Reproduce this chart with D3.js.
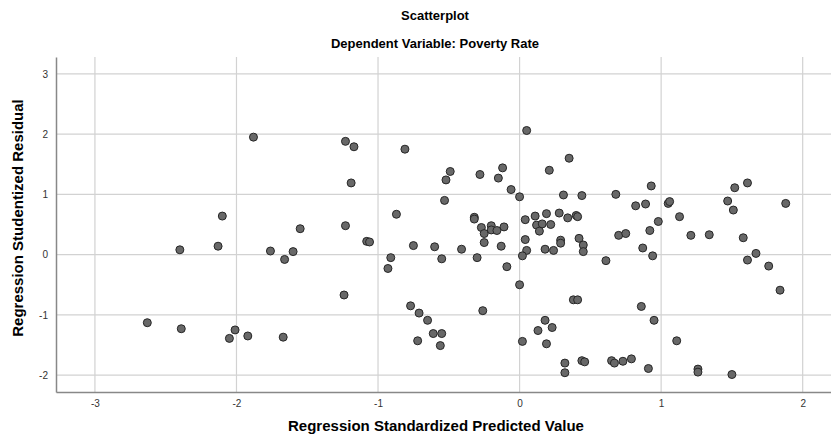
<!DOCTYPE html>
<html>
<head>
    <meta charset="utf-8">
    <title>Scatterplot</title>
    <style>
        body { margin: 0; background: #fff; }
        text { font-family: "Liberation Sans", Arial, sans-serif; }
    </style>
</head>
<body>
    <svg width="831" height="435"></svg>

    <script src="https://cdn.jsdelivr.net/npm/d3@7"></script>
    <script>

    // predicted values (x) and studentized residuals (y)
    var predicted = [
        -1.88, -2.10, -2.40, -2.13, -1.76, -2.63, -2.39, -2.01, -2.05, -1.92,
        -1.67, -1.66, -1.60, -1.55, -1.23, -1.23, -1.17, -1.19, -1.24, -1.08,
        -1.06, -0.81, -0.87, -0.91, -0.93, -0.75, -0.60, -0.55, -0.53, -0.49,
        -0.52, -0.41, -0.32, -0.32, -0.30, -0.28, -0.27, -0.25, -0.25, -0.20,
        -0.20, -0.16, -0.11, -0.13, -0.12, -0.15, -0.06, -0.09, 0.00, 0.05,
        0.04, 0.04, 0.05, 0.02, 0.11, 0.12, 0.16, 0.14, 0.19, 0.21,
        0.22, 0.18, 0.24, 0.28, 0.34, 0.40, 0.41, 0.35, 0.31, 0.44,
        0.29, 0.29, 0.42, 0.45, 0.45, 0.61, 0.68, 0.70, 0.75, 0.82,
        0.89, 0.87, 0.92, 0.93, 0.94, 0.98, 1.05, 1.06, 1.13, 1.21,
        1.34, 1.47, 1.51, 1.52, 1.61, 1.58, 1.67, 1.61, 1.76, 1.88,
        1.84, -0.77, -0.71, -0.65, -0.61, -0.55, -0.72, -0.56, -0.26, 0.00,
        0.02, 0.13, 0.18, 0.23, 0.19, 0.38, 0.41, 0.86, 0.95, 0.32,
        0.32, 0.44, 0.46, 0.65, 0.67, 0.73, 0.79, 0.91, 1.11, 1.26,
        1.26, 1.50
    ]
    var residual = [
        1.95, 0.64, 0.08, 0.14, 0.06, -1.13, -1.23, -1.25, -1.39, -1.35,
        -1.37, -0.08, 0.05, 0.43, 0.48, 1.88, 1.79, 1.19, -0.67, 0.22,
        0.21, 1.75, 0.67, -0.05, -0.23, 0.15, 0.13, -0.07, 0.90, 1.38,
        1.24, 0.09, 0.62, 0.59, -0.05, 1.33, 0.45, 0.35, 0.20, 0.48,
        0.41, 0.40, 0.46, 0.14, 1.44, 1.27, 1.08, -0.20, 0.96, 2.06,
        0.58, 0.25, 0.07, -0.02, 0.64, 0.49, 0.51, 0.39, 0.68, 1.40,
        0.50, 0.09, 0.07, 0.69, 0.61, 0.65, 0.63, 1.60, 0.99, 0.98,
        0.24, 0.19, 0.27, 0.16, 0.05, -0.10, 1.00, 0.32, 0.35, 0.81,
        0.84, 0.11, 0.40, 1.14, -0.02, 0.55, 0.85, 0.88, 0.63, 0.32,
        0.33, 0.89, 0.74, 1.11, 1.19, 0.28, 0.02, -0.09, -0.19, 0.85,
        -0.59, -0.85, -0.97, -1.09, -1.31, -1.31, -1.43, -1.51, -0.93, -0.50,
        -1.44, -1.26, -1.09, -1.21, -1.48, -0.75, -0.75, -0.86, -1.09, -1.80,
        -1.96, -1.76, -1.78, -1.76, -1.80, -1.77, -1.73, -1.89, -1.43, -1.90,
        -1.95, -1.99
    ]

    var xTicks = [-3, -2, -1, 0, 1, 2]
    var yTicks = [-2, -1, 0, 1, 2, 3]

    var svg = d3.select('svg')

    // plot box (right edge runs off the picture like the original)
    var plotLeft = 56, plotRight = 831, plotTop = 57, plotBottom = 392

    var x = d3.scaleLinear().domain([-3.275, 2.2]).range([plotLeft, plotRight])
    var y = d3.scaleLinear().domain([-2.28, 3.28]).range([plotBottom, plotTop])

    // grid
    svg.append('g').selectAll('line')
        .data(xTicks)
        .enter().append('line')
        .attr('x1', function(d){ return x(d) })
        .attr('x2', function(d){ return x(d) })
        .attr('y1', plotTop)
        .attr('y2', plotBottom)
        .attr('stroke', '#d2d2d2')
        .attr('stroke-width', 1.2)

    svg.append('g').selectAll('line')
        .data(yTicks)
        .enter().append('line')
        .attr('x1', plotLeft)
        .attr('x2', plotRight)
        .attr('y1', function(d){ return y(d) })
        .attr('y2', function(d){ return y(d) })
        .attr('stroke', '#d2d2d2')
        .attr('stroke-width', 1.2)

    // axes, no tick marks, plain hyphen for minus
    var fmt = function(d){ return String(d) }
    var xAxis = svg.append('g')
        .attr('transform', 'translate(0,' + plotBottom + ')')
        .call(d3.axisBottom(x).tickValues(xTicks).tickFormat(fmt).tickSize(0).tickPadding(8))
    var yAxis = svg.append('g')
        .attr('transform', 'translate(' + plotLeft + ',0)')
        .call(d3.axisLeft(y).tickValues(yTicks).tickFormat(fmt).tickSize(0).tickPadding(8))

    xAxis.select('.domain').attr('stroke', '#888').attr('stroke-width', 1.5)
    yAxis.select('.domain').attr('stroke', '#888').attr('stroke-width', 1.5)
    svg.selectAll('.tick text')
        .attr('font-size', 10)
        .attr('fill', '#333')
        .style('font-family', '"Liberation Sans", Arial, sans-serif')

    // points
    svg.append('g').selectAll('circle')
        .data(predicted)
        .enter().append('circle')
        .attr('cx', function(d){ return x(d) })
        .attr('cy', function(d, i){ return y(residual[i]) })
        .attr('r', 4)
        .attr('fill', '#686868')
        .attr('stroke', '#262626')
        .attr('stroke-width', 1)

    // titles
    svg.append('text')
        .attr('x', 435).attr('y', 20)
        .attr('text-anchor', 'middle')
        .attr('font-size', 13).attr('font-weight', 'bold')
        .text('Scatterplot')
    svg.append('text')
        .attr('x', 435).attr('y', 48)
        .attr('text-anchor', 'middle')
        .attr('font-size', 13).attr('font-weight', 'bold')
        .text('Dependent Variable: Poverty Rate')

    svg.append('text')
        .attr('x', 436).attr('y', 431)
        .attr('text-anchor', 'middle')
        .attr('font-size', 15).attr('font-weight', 'bold')
        .text('Regression Standardized Predicted Value')
    svg.append('text')
        .attr('transform', 'translate(23,218) rotate(-90)')
        .attr('text-anchor', 'middle')
        .attr('font-size', 15).attr('font-weight', 'bold')
        .text('Regression Studentized Residual')

    </script>
</body>
</html>
